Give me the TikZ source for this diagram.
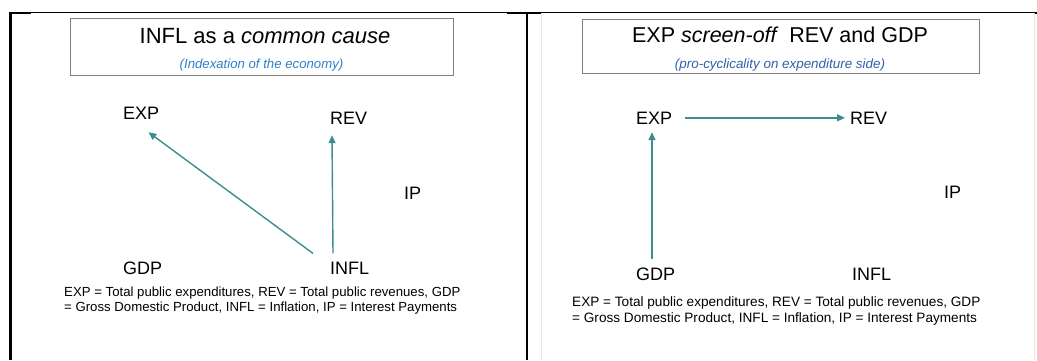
\documentclass[tikz,border=0pt]{standalone}
\usepackage{fontspec}
\setmainfont{Liberation Sans}
\usetikzlibrary{arrows.meta}
\definecolor{teal1}{RGB}{62,140,144}
\definecolor{blueA}{RGB}{46,128,200}
\definecolor{blueB}{RGB}{48,96,168}
\definecolor{boxgray}{RGB}{128,128,128}
\definecolor{lightline}{RGB}{232,232,232}
\tikzset{
  lbl/.style={inner sep=0pt, anchor=base west, font=\fontsize{18}{21}\selectfont},
  ttl/.style={inner sep=0pt, anchor=base, font=\fontsize{22}{26}\selectfont},
  sub/.style={inner sep=0pt, anchor=base, font=\fontsize{13.2}{15}\selectfont\itshape},
  legend/.style={inner sep=0pt, anchor=base west, align=left},
  hdr/.style={draw=boxgray, line width=0.9pt},
  arr/.style={draw=teal1, line width=1.4pt, -{Triangle[length=8pt,width=7pt]}},
}
\begin{document}
\begin{tikzpicture}[x=1pt,y=-1pt]
\useasboundingbox (0,0) rectangle (1037,360);
% frame lines
\draw[line width=1pt] (10,12.5) -- (1036,12.5);
\draw[line width=2pt] (10,12.5) -- (31,12.5);
\draw[line width=2pt] (507,12.5) -- (541,12.5);
\draw[line width=2.2pt] (10.5,12) -- (10.5,360);
\draw[line width=2.4pt] (527,12) -- (527,360);
\draw[lightline, line width=0.8pt] (541.5,13) -- (541.5,360);
\draw[lightline, line width=0.8pt] (1034.5,13) -- (1034.5,360);
\draw[line width=1.5pt] (1036,11.5) -- (1036,14);

% ---------- left panel ----------
\draw[hdr] (70,18) rectangle (453,75);
\node[ttl] (t1) at (265,43) {INFL as a \textit{common cause}};
\node[sub, text=blueA] (s1) at (261.5,68) {(Indexation of the economy)};
\node[lbl] (exp1) at (123,119) {EXP};
\node[lbl] (rev1) at (330,124) {REV};
\node[lbl] (ip1) at (404,199) {IP};
\node[lbl] (gdp1) at (123,274) {GDP};
\node[lbl] (infl1) at (330,274) {INFL};
\node[legend, font=\fontsize{13.2}{15}\selectfont] (leg1) at (64,311)
  {EXP = Total public expenditures, REV = Total public revenues, GDP\\
   = Gross Domestic Product, INFL = Inflation, IP = Interest Payments};
\draw[arr] ([xshift=-17pt,yshift=8pt]infl1.north west) -- ([xshift=-11pt,yshift=-13pt]exp1.south east);
\draw[arr] ([xshift=3pt,yshift=8pt]infl1.north west) -- ([xshift=2pt,yshift=-11pt]rev1.south west);

% ---------- right panel ----------
\draw[hdr] (582,19) rectangle (979,73);
\node[ttl, font=\fontsize{21.5}{25}\selectfont] (t2) at (780,42) {EXP \textit{screen-off}\enspace REV and GDP};
\node[sub, text=blueB, font=\fontsize{13.4}{15}\selectfont\itshape] (s2) at (780,68) {(pro-cyclicality on expenditure side)};
\node[lbl] (exp2) at (636,124) {EXP};
\node[lbl] (rev2) at (850,124) {REV};
\node[lbl] (ip2) at (944,198) {IP};
\node[lbl] (gdp2) at (636,280) {GDP};
\node[lbl] (infl2) at (852,280) {INFL};
\node[legend, font=\fontsize{13.6}{16}\selectfont] (leg2) at (572,322)
  {EXP = Total public expenditures, REV = Total public revenues, GDP\\
   = Gross Domestic Product, INFL = Inflation, IP = Interest Payments};
\draw[arr] ([xshift=13pt]exp2.east) -- ([xshift=-5pt]rev2.west);
\draw[arr] ([xshift=16pt,yshift=8pt]gdp2.north west) -- ([xshift=16pt,yshift=-8pt]exp2.south west);
\end{tikzpicture}
\end{document}
